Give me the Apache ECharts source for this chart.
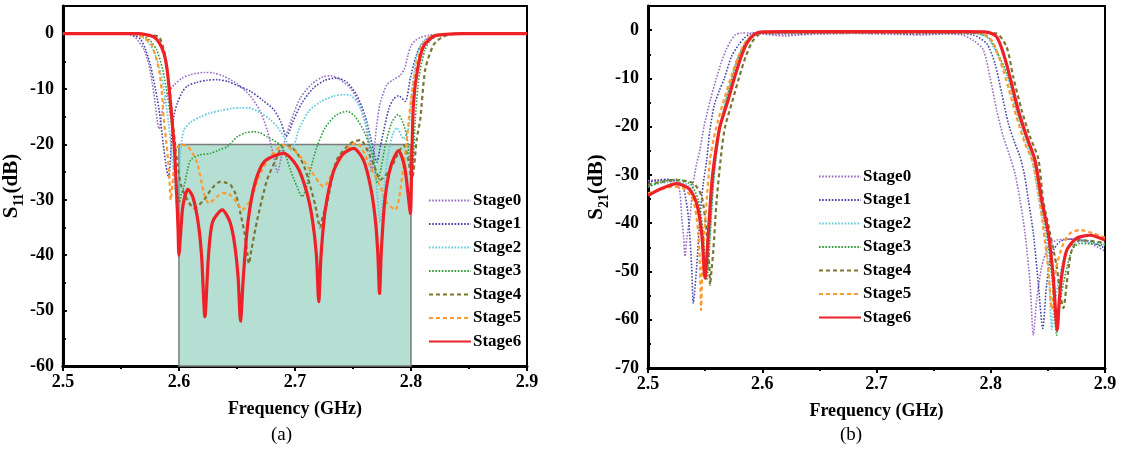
<!DOCTYPE html>
<html>
<head>
<meta charset="utf-8">
<script src="https://cdn.jsdelivr.net/npm/echarts@6/dist/echarts.min.js"></script>
<style>
  html, body { margin: 0; padding: 0; background: #fff; }
  #chart { width: 1128px; height: 457px; }
</style>
</head>
<body>
<div id="chart"></div>
<script>
// Filter tuning stages: S11 and S21 responses, frequency in GHz, level in dB
const stageNames = ['Stage0', 'Stage1', 'Stage2', 'Stage3', 'Stage4', 'Stage5', 'Stage6'];
const xTicks = [2.5, 2.6, 2.7, 2.8, 2.9];
const passband = [2.6, 2.8];      // GHz
const returnLossLimit = -20;      // dB
const s11Floor = -60;

// ---- S11 (dB) ----
const s11Stage0 = [[2.5,0],[2.55,0],[2.558,-0.2],[2.563,-0.8],[2.57,-2.9],[2.574,-5.5],[2.577,-8.9],[2.5795,-12.5],[2.5815,-16],[2.583,-17.2],[2.5845,-15.5],[2.5865,-13],[2.5895,-11],[2.5957,-9.3],[2.603,-8],[2.61,-7.4],[2.6216,-7.0],[2.63,-7.1],[2.6388,-7.7],[2.65,-9],[2.6617,-11.3],[2.67,-14],[2.676,-17.4],[2.681,-21.5],[2.685,-25],[2.688,-22.5],[2.691,-19.5],[2.697,-15.5],[2.705,-11.5],[2.715,-9],[2.724,-7.8],[2.731,-7.6],[2.738,-8.2],[2.7477,-9.8],[2.755,-12.5],[2.761,-16.5],[2.764,-20.5],[2.766,-25],[2.768,-21.5],[2.7705,-16.5],[2.7735,-12.5],[2.7793,-9.2],[2.785,-8.3],[2.7908,-7.5],[2.7945,-6.3],[2.7975,-3.8],[2.8,-2.2],[2.804,-1.2],[2.808,-0.7],[2.815,-0.3],[2.825,-0.1],[2.84,0],[2.9,0]];
const s11Stage1 = [[2.5,0],[2.555,0],[2.562,-0.4],[2.567,-1],[2.5715,-3],[2.5757,-5.9],[2.5815,-11.9],[2.584,-15.5],[2.5865,-20],[2.5886,-23.4],[2.591,-26],[2.5925,-23.5],[2.594,-17.4],[2.596,-14.5],[2.5987,-12.5],[2.603,-10.5],[2.607,-9.5],[2.615,-8.8],[2.6245,-8.4],[2.633,-8.3],[2.6417,-8.6],[2.652,-9.5],[2.6617,-10.4],[2.672,-12],[2.6817,-13.7],[2.688,-16],[2.6925,-18.5],[2.6945,-18],[2.698,-16],[2.706,-12.5],[2.716,-9.8],[2.726,-8.4],[2.7365,-8.0],[2.745,-8.8],[2.753,-11],[2.76,-14.5],[2.7655,-19],[2.7685,-22],[2.7707,-23.2],[2.773,-21],[2.7765,-17.5],[2.781,-13.5],[2.785,-11.8],[2.7893,-11.2],[2.795,-12.2],[2.7995,-8],[2.8037,-4.5],[2.808,-2.3],[2.8166,-0.5],[2.825,-0.1],[2.84,0],[2.9,0]];
const s11Stage2 = [[2.5,0],[2.555,0],[2.565,-0.3],[2.572,-1.2],[2.578,-3],[2.583,-6],[2.587,-10],[2.591,-16],[2.5945,-23],[2.597,-29],[2.5985,-32],[2.6,-27],[2.6015,-21],[2.6043,-17.4],[2.61,-16],[2.6187,-15],[2.627,-14.3],[2.636,-13.9],[2.6453,-13.5],[2.653,-13.4],[2.6597,-13.4],[2.6703,-14.3],[2.6785,-15.5],[2.6847,-16.8],[2.691,-18.8],[2.6965,-21],[2.6995,-20],[2.704,-17],[2.712,-14],[2.722,-12.3],[2.733,-11.3],[2.742,-11],[2.7475,-11.1],[2.754,-12.5],[2.761,-16],[2.766,-21],[2.77,-27],[2.7735,-34],[2.7765,-28],[2.7805,-21.6],[2.7845,-18],[2.788,-17],[2.7935,-19],[2.798,-17],[2.801,-10],[2.805,-4],[2.81,-1.5],[2.8166,-0.5],[2.83,-0.1],[2.84,0],[2.9,0]];
const s11Stage3 = [[2.5,0],[2.56,0],[2.568,-0.3],[2.575,-1.2],[2.581,-3],[2.586,-6.5],[2.59,-11],[2.594,-17],[2.597,-24],[2.599,-29],[2.6005,-30.5],[2.602,-29],[2.6043,-27.6],[2.607,-25],[2.61,-22.8],[2.618,-21.9],[2.6273,-21.6],[2.6345,-21],[2.6417,-20.4],[2.6503,-18.6],[2.6575,-17.9],[2.6646,-17.7],[2.67,-17.9],[2.676,-18.6],[2.6875,-20.1],[2.692,-22],[2.6961,-24.6],[2.7015,-27.5],[2.7062,-29.4],[2.7095,-28],[2.7133,-24.6],[2.719,-20.4],[2.726,-17],[2.735,-14.8],[2.745,-14],[2.752,-15],[2.759,-17.4],[2.764,-20],[2.768,-22.8],[2.771,-27],[2.7745,-24],[2.778,-20],[2.7835,-16],[2.789,-14.6],[2.793,-16],[2.7965,-18.6],[2.799,-23],[2.8008,-26.4],[2.8037,-15.5],[2.806,-9.5],[2.808,-6.5],[2.812,-3],[2.8166,-1.2],[2.825,-0.2],[2.84,0],[2.9,0]];
const s11Stage4 = [[2.5,0],[2.565,0],[2.574,-0.3],[2.5828,-0.6],[2.587,-3],[2.59,-6.5],[2.5925,-11],[2.5944,-15.5],[2.5965,-19.5],[2.5987,-23.4],[2.602,-27.5],[2.6073,-30],[2.613,-31.5],[2.6216,-30],[2.629,-27.8],[2.6359,-26.7],[2.6405,-26.9],[2.6445,-27.3],[2.649,-29],[2.653,-32.4],[2.6565,-36],[2.6589,-39.6],[2.6603,-41.5],[2.6625,-39],[2.6675,-33.6],[2.676,-26.4],[2.6847,-22.2],[2.69,-20.1],[2.696,-20.3],[2.702,-21.6],[2.708,-24],[2.7133,-27.6],[2.7175,-31],[2.7205,-34.2],[2.7215,-35],[2.724,-33],[2.7277,-30.6],[2.736,-22.8],[2.7477,-19.8],[2.7563,-19.2],[2.765,-22.2],[2.77,-24.8],[2.7735,-26.4],[2.778,-25.6],[2.782,-24.6],[2.788,-22],[2.7936,-20.1],[2.798,-23],[2.8005,-26.5],[2.8022,-25],[2.805,-19],[2.808,-15.5],[2.8123,-6.5],[2.8195,-2],[2.828,-0.5],[2.84,0],[2.9,0]];
const s11Stage5 = [[2.5,0],[2.558,0],[2.566,-0.3],[2.5718,-1],[2.5757,-1.7],[2.5795,-3.8],[2.5828,-6.5],[2.585,-10],[2.587,-15.5],[2.5893,-20],[2.5914,-24.6],[2.593,-30],[2.5945,-27],[2.5965,-22.5],[2.5987,-20.5],[2.6015,-20],[2.6073,-20.3],[2.6115,-21.5],[2.6159,-23.4],[2.6216,-28.8],[2.6259,-30.6],[2.633,-29.4],[2.6375,-28.8],[2.6417,-28.8],[2.6503,-30.6],[2.6546,-31.8],[2.6617,-30],[2.6703,-25.2],[2.679,-22.2],[2.69,-20.1],[2.702,-21.6],[2.7133,-24.6],[2.7248,-27.6],[2.7334,-24.6],[2.7477,-20.1],[2.7535,-19.8],[2.765,-24],[2.7735,-27.6],[2.7793,-30.6],[2.7865,-31.8],[2.7936,-24],[2.797,-18],[2.8,-12],[2.804,-6.5],[2.8094,-2.3],[2.8166,-0.5],[2.825,-0.1],[2.84,0],[2.9,0]];
const s11Stage6 = [[2.5,0],[2.565,0],[2.572,-0.2],[2.5786,-0.6],[2.583,-1.6],[2.587,-3.5],[2.5895,-6],[2.5914,-9.5],[2.594,-15.5],[2.5963,-21.5],[2.598,-28.7],[2.5992,-35],[2.6,-40],[2.6015,-36],[2.6035,-31],[2.6078,-28.1],[2.612,-29.5],[2.6165,-34],[2.6195,-40],[2.6224,-51.1],[2.6255,-40],[2.629,-34],[2.6374,-31.8],[2.644,-34],[2.648,-38],[2.651,-44],[2.6531,-51.9],[2.6555,-44],[2.6595,-34],[2.6655,-27],[2.674,-23],[2.6904,-21.6],[2.702,-24],[2.71,-28.5],[2.715,-33.5],[2.7185,-40],[2.7205,-48.4],[2.7225,-40],[2.726,-32],[2.733,-25],[2.741,-21.8],[2.7506,-20.7],[2.759,-22.8],[2.7655,-28],[2.7695,-34],[2.7715,-40],[2.7729,-46.9],[2.7745,-39],[2.7775,-30],[2.7825,-24],[2.7893,-21.1],[2.7945,-24],[2.7975,-29],[2.7995,-32.5],[2.8008,-21.6],[2.8022,-12.5],[2.8056,-6.5],[2.8108,-2.3],[2.8194,-0.5],[2.831,-0.1],[2.845,0],[2.9,0]];

// ---- S21 (dB) ----
const s21Stage0 = [[2.5,-31.2],[2.508,-31],[2.5163,-30.9],[2.5251,-31.4],[2.528,-33.8],[2.5295,-38.7],[2.5312,-43],[2.5324,-46.9],[2.534,-43],[2.5368,-38.7],[2.5396,-31.7],[2.5426,-27.6],[2.5455,-24.8],[2.549,-20],[2.5545,-14.5],[2.5598,-10],[2.564,-6.8],[2.5685,-4],[2.5725,-2.2],[2.5763,-1],[2.581,-0.6],[2.59,-0.6],[2.6,-0.8],[2.62,-1.2],[2.64,-0.9],[2.66,-0.8],[2.68,-0.7],[2.7,-0.8],[2.72,-0.9],[2.74,-1.0],[2.76,-0.8],[2.775,-1.0],[2.7847,-2.1],[2.7935,-4.1],[2.7993,-9.7],[2.8052,-16.6],[2.811,-22.1],[2.8168,-26.2],[2.8215,-30],[2.8256,-35.2],[2.83,-42.1],[2.8344,-52.5],[2.8373,-63.2],[2.8402,-55.9],[2.8446,-49],[2.8504,-44.9],[2.8577,-43.5],[2.8723,-43.3],[2.8869,-44.2],[2.9,-45.8]];
const s21Stage1 = [[2.5,-31.5],[2.51,-31.1],[2.5193,-31],[2.527,-31.5],[2.5309,-32.4],[2.5353,-38.7],[2.5382,-49],[2.5396,-56.6],[2.5426,-49],[2.5455,-38.7],[2.5484,-31.7],[2.5514,-26.9],[2.554,-21],[2.558,-15.5],[2.5625,-12.5],[2.5668,-10],[2.573,-5.5],[2.5795,-3],[2.5845,-1.6],[2.5891,-0.8],[2.595,-0.6],[2.61,-0.8],[2.63,-0.8],[2.65,-0.6],[2.67,-0.5],[2.69,-0.6],[2.71,-0.6],[2.73,-0.8],[2.75,-0.7],[2.77,-0.7],[2.7847,-1],[2.7965,-2.8],[2.8037,-6.9],[2.8096,-13.1],[2.8154,-19.3],[2.8212,-23.5],[2.8256,-26.2],[2.8295,-30],[2.8329,-35.2],[2.8373,-42.1],[2.8416,-52.5],[2.8455,-61.8],[2.849,-52.5],[2.8534,-46.3],[2.8606,-43.8],[2.8694,-43.3],[2.8869,-43.8],[2.9,-45.2]];
const s21Stage2 = [[2.5,-32.4],[2.51,-31.8],[2.5221,-31.4],[2.53,-31.6],[2.5368,-32.4],[2.544,-37.3],[2.5484,-45.6],[2.5508,-49.7],[2.5525,-46],[2.5543,-42.1],[2.5572,-31.7],[2.56,-25],[2.563,-20],[2.5675,-15],[2.5725,-10.5],[2.578,-6],[2.584,-3],[2.59,-1.2],[2.596,-0.6],[2.61,-0.5],[2.65,-0.5],[2.7,-0.4],[2.75,-0.5],[2.78,-0.5],[2.79,-0.8],[2.797,-1.5],[2.803,-3.8],[2.8145,-9.7],[2.822,-16.6],[2.829,-22.1],[2.836,-26.9],[2.842,-35],[2.8475,-42],[2.851,-51],[2.8534,-62],[2.8555,-57],[2.8591,-52.5],[2.8665,-45.6],[2.8781,-43.8],[2.8985,-44.2],[2.9,-44.3]];
const s21Stage3 = [[2.5,-32.5],[2.51,-31.5],[2.5251,-30.9],[2.532,-31.3],[2.5382,-32.1],[2.544,-35.2],[2.5484,-42.1],[2.5514,-51.8],[2.5535,-46],[2.5555,-38],[2.5575,-31],[2.5605,-24.5],[2.5635,-20],[2.568,-15],[2.573,-10.5],[2.5785,-6],[2.585,-2.8],[2.591,-1.1],[2.597,-0.5],[2.62,-0.5],[2.66,-0.4],[2.7,-0.4],[2.74,-0.4],[2.78,-0.5],[2.792,-0.9],[2.799,-1.8],[2.805,-4.3],[2.8155,-9.7],[2.823,-16.6],[2.8305,-22.1],[2.8375,-26.9],[2.8435,-35.2],[2.849,-42.1],[2.8535,-51.1],[2.8577,-63.2],[2.86,-57.5],[2.8636,-52.5],[2.8709,-45.6],[2.8781,-44.2],[2.8985,-44.5],[2.9,-44.6]];
const s21Stage4 = [[2.5,-32],[2.51,-31.5],[2.5251,-31.1],[2.5396,-31.7],[2.547,-34.5],[2.5514,-42.1],[2.5537,-49],[2.5543,-52.8],[2.5555,-50],[2.5572,-45.6],[2.5601,-35.2],[2.5645,-24.8],[2.5675,-20],[2.5735,-15],[2.5795,-10],[2.5855,-5.5],[2.591,-2.5],[2.5965,-1],[2.602,-0.5],[2.65,-0.5],[2.7,-0.5],[2.75,-0.5],[2.79,-0.5],[2.8052,-0.7],[2.8139,-3.5],[2.8197,-9.7],[2.8271,-16.6],[2.8344,-22.1],[2.8416,-26.6],[2.8459,-35.2],[2.8519,-42.1],[2.8577,-49],[2.8606,-54.5],[2.8636,-57.6],[2.8665,-52.5],[2.8709,-45.6],[2.8781,-43.5],[2.8985,-44],[2.9,-44.1]];
const s21Stage5 = [[2.5,-33.8],[2.51,-33.1],[2.5221,-32.4],[2.5309,-32.8],[2.5396,-35.2],[2.544,-42.1],[2.5455,-49],[2.5464,-58],[2.5475,-50],[2.5484,-45.6],[2.5514,-35.2],[2.5543,-26.9],[2.5575,-22.5],[2.561,-19],[2.567,-14],[2.573,-9.5],[2.579,-5.5],[2.585,-2.6],[2.591,-1.1],[2.597,-0.5],[2.65,-0.4],[2.7,-0.4],[2.75,-0.4],[2.785,-0.4],[2.795,-0.9],[2.802,-2.5],[2.8085,-6.5],[2.8155,-12],[2.8225,-18],[2.83,-23.5],[2.837,-27.5],[2.842,-34],[2.8465,-42],[2.8505,-50],[2.8535,-57.8],[2.8555,-52],[2.8585,-48],[2.8636,-44.2],[2.8694,-42.1],[2.8781,-41.4],[2.8898,-42.1],[2.9,-43]];
const s21Stage6 = [[2.5,-34.3],[2.505,-33.6],[2.515,-32.5],[2.525,-31.8],[2.531,-32.2],[2.5368,-33.1],[2.5426,-35.9],[2.547,-42.1],[2.5499,-51.4],[2.5528,-42.1],[2.5558,-31.8],[2.5586,-26.2],[2.5629,-20],[2.5695,-15],[2.5755,-10],[2.5815,-5.5],[2.587,-2.5],[2.5925,-1],[2.598,-0.4],[2.62,-0.3],[2.66,-0.3],[2.7,-0.3],[2.74,-0.3],[2.78,-0.3],[2.7965,-0.4],[2.8052,-1.4],[2.811,-4.8],[2.8168,-9.7],[2.8241,-16.6],[2.8315,-22.1],[2.8387,-26.9],[2.8446,-35.2],[2.8504,-42.1],[2.8547,-51.1],[2.8582,-62.1],[2.86,-55.9],[2.862,-51.1],[2.8665,-45.6],[2.8752,-43.1],[2.8869,-42.5],[2.9,-43.5]];

const s11Data = [s11Stage0, s11Stage1, s11Stage2, s11Stage3, s11Stage4, s11Stage5, s11Stage6];
const s21Data = [s21Stage0, s21Stage1, s21Stage2, s21Stage3, s21Stage4, s21Stage5, s21Stage6];

// Line appearance per stage: dotted early stages, dashed later, solid final
const stageStyles = [
  { color: '#9a6cc4', width: 1.6, type: [1.6, 1.6] },
  { color: '#4545a8', width: 1.6, type: [1.6, 1.6] },
  { color: '#62cbe0', width: 1.8, type: [1.6, 1.6] },
  { color: '#2f9e3a', width: 1.6, type: [1.6, 1.6] },
  { color: '#7b7633', width: 2.2, type: [4, 3] },
  { color: '#ff9a2e', width: 2.2, type: [4, 3] },
  { color: '#ee2128', width: 3.2, type: 'solid' }
];

const FONT = '"Liberation Serif", "Times New Roman", serif';

function makeSeries(dataSets, axisIndex) {
  return dataSets.map((d, i) => ({
    name: stageNames[i],
    type: 'line',
    xAxisIndex: axisIndex,
    yAxisIndex: axisIndex,
    data: d,
    symbol: 'none',
    smooth: 0.25,
    z: 3 + i,
    lineStyle: { color: stageStyles[i].color, width: stageStyles[i].width, type: stageStyles[i].type },
    itemStyle: { color: stageStyles[i].color }
  }));
}

function xAxis(gridIndex) {
  return {
    type: 'value', gridIndex: gridIndex, min: xTicks[0], max: xTicks[xTicks.length - 1], interval: 0.1,
    name: 'Frequency (GHz)', nameLocation: 'middle', nameGap: 34,
    nameTextStyle: { fontFamily: FONT, fontWeight: 'bold', fontSize: 18, color: '#000' },
    axisLine: { onZero: false, lineStyle: { color: '#000', width: 3 } },
    axisTick: { inside: false, length: 5, lineStyle: { color: '#000', width: 2 } },
    minorTick: { show: true, splitNumber: 2, length: 3, lineStyle: { color: '#000', width: 2 } },
    splitLine: { show: false },
    axisLabel: { fontFamily: FONT, fontWeight: 'bold', fontSize: 18, color: '#000', margin: 7,
      formatter: v => v.toFixed(1) }
  };
}

function yAxis(gridIndex, min, sub, gap) {
  return {
    type: 'value', gridIndex: gridIndex, min: min, max: 5, interval: 10,
    name: '{m|S}{s|' + sub + '}{m|(dB)}', nameLocation: 'middle', nameGap: gap, nameRotate: 90,
    nameTextStyle: {
      rich: {
        m: { fontFamily: FONT, fontWeight: 'bold', fontSize: 21, color: '#000', verticalAlign: 'bottom', padding: [0, 0, 4, 0] },
        s: { fontFamily: FONT, fontWeight: 'bold', fontSize: 14, color: '#000', verticalAlign: 'bottom' }
      }
    },
    axisLine: { onZero: false, lineStyle: { color: '#000', width: 3 } },
    axisTick: { inside: true, length: 4, lineStyle: { color: '#000', width: 2 } },
    minorTick: { show: true, splitNumber: 2, length: 3, lineStyle: { color: '#000', width: 2 } },
    splitLine: { show: false },
    axisLabel: { fontFamily: FONT, fontWeight: 'bold', fontSize: 18, color: '#000', margin: 9,
      formatter: v => (v > 0 ? '' : String(v)) }
  };
}

function legend(left, top) {
  return {
    data: stageNames, orient: 'vertical', left: left, top: top, padding: 0,
    itemWidth: 42, itemHeight: 14, itemGap: 6.5,
    itemStyle: { opacity: 0 },
    textStyle: { fontFamily: FONT, fontWeight: 'bold', fontSize: 17, color: '#000', padding: [0, 0, 0, -3] }
  };
}

const chart = echarts.init(document.getElementById('chart'), null, { renderer: 'canvas' });

// Shaded passband target region on the S11 panel
const targetRegion = {
  name: 'passband', type: 'line', xAxisIndex: 0, yAxisIndex: 0, data: [], z: 1, silent: true,
  markArea: {
    silent: true,
    itemStyle: { color: '#b4dfd2', borderColor: '#7c7c7c', borderWidth: 1.5 },
    data: [[{ coord: [passband[0], returnLossLimit] }, { coord: [passband[1], s11Floor] }]]
  }
};

chart.setOption({
  animation: false,
  backgroundColor: '#fff',
  grid: [
    { left: 62, right: 601, top: 6, bottom: 91, show: true, borderColor: '#000', borderWidth: 2, backgroundColor: 'transparent' },
    { left: 648, right: 23, top: 6, bottom: 89, show: true, borderColor: '#000', borderWidth: 2, backgroundColor: 'transparent' }
  ],
  xAxis: [xAxis(0), xAxis(1)],
  yAxis: [yAxis(0, s11Floor, '11', 25), yAxis(1, -70, '21', 26)],
  legend: [legend(428, 192), legend(818, 168)],
  graphic: [
    { type: 'text', left: 271, top: 426, style: { text: '(a)', font: '19px ' + FONT, fill: '#000' } },
    { type: 'text', left: 840, top: 426, style: { text: '(b)', font: '19px ' + FONT, fill: '#000' } }
  ],
  series: [targetRegion].concat(makeSeries(s11Data, 0), makeSeries(s21Data, 1))
});
</script>
</body>
</html>
